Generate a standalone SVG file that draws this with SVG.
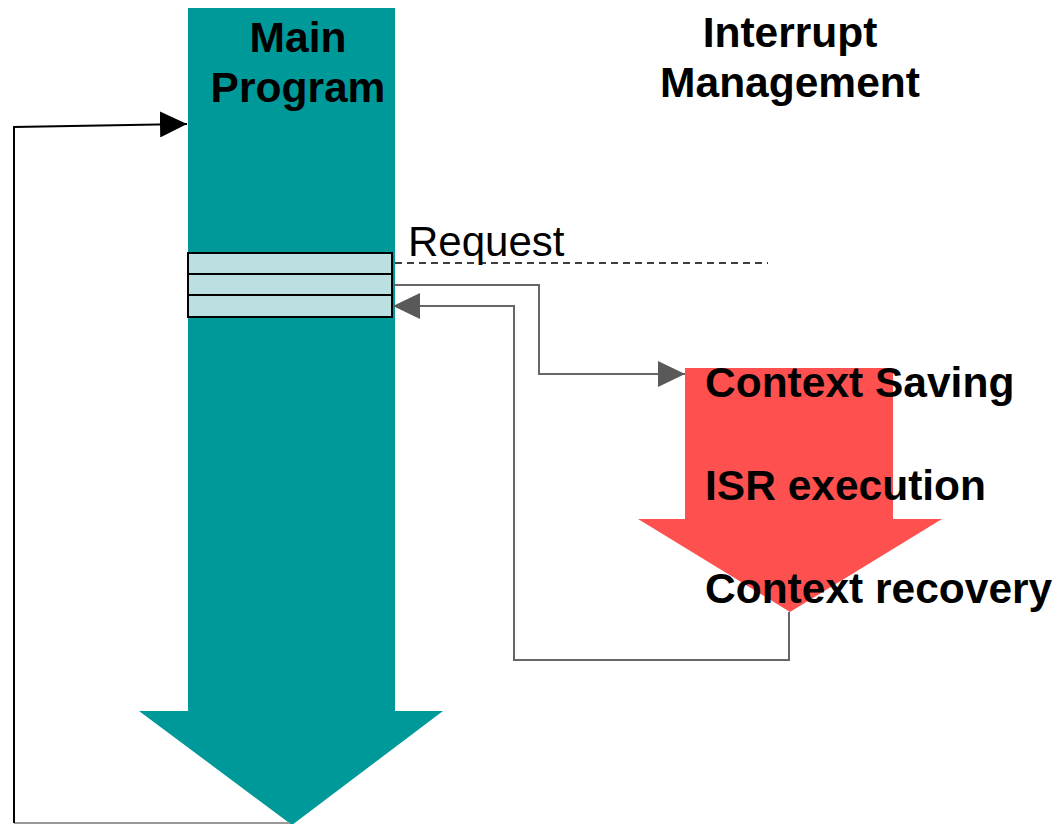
<svg xmlns="http://www.w3.org/2000/svg" width="1057" height="824" viewBox="0 0 1057 824">
  <style>
    .title { font-family: "Liberation Sans", Arial, sans-serif; font-weight: bold; font-size: 42.5px; fill: #000; }
    .label { font-family: "Liberation Sans", Arial, sans-serif; font-size: 42px; fill: #000; }
    .slot { fill: #BCE0E2; stroke: #000; stroke-width: 2; }
    .link { fill: none; stroke: #666; stroke-width: 2; }
    .loop { fill: none; stroke: #000; stroke-width: 2; }
  </style>
  <defs>
    <marker id="headGrey" markerWidth="28" markerHeight="26" refX="27" refY="13" orient="auto" markerUnits="userSpaceOnUse">
      <path d="M0,0 L27,13 L0,26 Z" fill="#595959"/>
    </marker>
    <marker id="headBlack" markerWidth="28" markerHeight="26" refX="27" refY="13" orient="auto" markerUnits="userSpaceOnUse">
      <path d="M0,0 L27,13 L0,26 Z" fill="#000"/>
    </marker>
  </defs>
  <rect width="1057" height="824" fill="#fff"/>

  <!-- main program flow -->
  <g id="main-program">
    <path d="M188,8 H395 V711 H443 L292,825 L139,711 H188 Z" fill="#009999"/>
    <text class="title" x="298" y="52" text-anchor="middle">Main</text>
    <text class="title" x="298" y="102" text-anchor="middle">Program</text>
  </g>

  <!-- interrupted instruction slots -->
  <g id="instruction-slots">
    <rect class="slot" x="188" y="253" width="204" height="21"/>
    <rect class="slot" x="188" y="274" width="204" height="21"/>
    <rect class="slot" x="188" y="295" width="204" height="22"/>
  </g>

  <!-- interrupt service routine -->
  <g id="isr">
    <path d="M685,368 H893 V519 H942 L790,612 L638,519 H685 Z" fill="#FF5050"/>
    <text class="title" x="705" y="397">Context Saving</text>
    <text class="title" x="705" y="500">ISR execution</text>
    <text class="title" x="705" y="603">Context recovery</text>
  </g>

  <g id="interrupt-title">
    <text class="title" x="790" y="47" text-anchor="middle">Interrupt</text>
    <text class="title" x="790" y="97" text-anchor="middle">Management</text>
  </g>

  <g id="request">
    <text class="label" x="408" y="256">Request</text>
  </g>

  <!-- connectors -->
  <g id="connectors">
    <line x1="395" y1="263" x2="768" y2="263" stroke="#000" stroke-width="1.5" stroke-dasharray="7,5"/>
    <path class="link" d="M393,285 H539 V374 H685" marker-end="url(#headGrey)"/>
    <path class="link" d="M789,612 V660 H514 V306 H393" marker-end="url(#headGrey)"/>
    <path d="M290,823 H14" fill="none" stroke="#999" stroke-width="2"/>
    <path class="loop" d="M14,823 V127 L187,124" marker-end="url(#headBlack)"/>
  </g>
</svg>
